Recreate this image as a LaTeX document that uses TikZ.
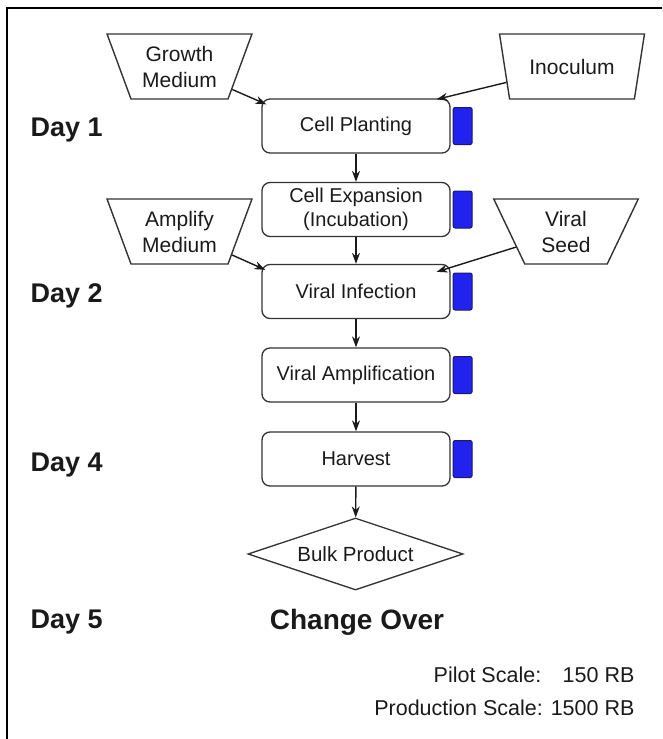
\documentclass[tikz,border=0pt]{standalone}
\usepackage{fontspec}
\setmainfont{Liberation Sans}
\usetikzlibrary{shapes.geometric,arrows.meta,calc}
\definecolor{ink}{HTML}{1A1A1A}
\definecolor{edge}{HTML}{333333}
\definecolor{tabblue}{HTML}{2222EE}
\definecolor{tabedge}{HTML}{1A1A66}
\begin{document}
\begin{tikzpicture}[x=1pt,y=-1pt,
  every node/.style={text=ink},
  stepbox/.style={draw=edge,line width=1.3pt,rounded corners=8pt,
    minimum width=188pt,minimum height=54pt,align=center,
    font=\fontsize{20}{24}\selectfont,inner sep=0pt},
  feed/.style={draw=edge,line width=1.4pt,trapezium,shape border rotate=180,
    trapezium stretches=true,trapezium angle=66,
    minimum width=145pt,minimum height=65pt,align=center,
    font=\fontsize{21}{26}\selectfont,inner sep=0pt},
  tab/.style={draw=tabedge,fill=tabblue,line width=1pt,rounded corners=2pt,
    minimum width=19pt,minimum height=37pt,inner sep=0pt,anchor=west},
  daylabel/.style={anchor=west,font=\bfseries\fontsize{27}{32}\selectfont},
  arr/.style={-{Stealth[length=11pt,width=8pt]},line width=1.4pt,draw=ink},
]
\useasboundingbox (0,0) rectangle (662,739);
% frame
\draw[line width=2pt,black] (7,739) -- (7,8) -- (662,8);

% inputs
\node[feed] (gm) at (179.5,66.5) {Growth\\Medium};
\node[feed] (ino) at (572,66.5) {Inoculum};
\node[feed] (am) at (179.5,231.5) {Amplify\\Medium};
\node[feed] (vs) at (566,231.5) {Viral\\Seed};

% process steps
\node[stepbox] (cp) at (356,126) {Cell Planting};
\node[stepbox] (ce) at (356,209.5) {Cell Expansion\\(Incubation)};
\node[stepbox] (vi) at (356,291.5) {Viral Infection};
\node[stepbox] (va) at (356,375) {Viral Amplification};
\node[stepbox] (hv) at (356,459) {Harvest};
\node[draw=edge,line width=1.3pt,diamond,aspect=3,minimum width=215pt,
  minimum height=72pt,inner sep=0pt,font=\fontsize{20.5}{24}\selectfont]
  (bp) at (355.5,554) {Bulk Product};

% blue tabs beside each step
\foreach \s in {cp,ce,vi,va,hv}
  \node[tab] (tab-\s) at ([xshift=2pt]\s.east) {};

% flow
\draw[arr] (cp) -- (ce);
\draw[arr] (ce) -- (vi);
\draw[arr] (vi) -- (va);
\draw[arr] (va) -- (hv);
\draw[arr] (hv) -- (bp);
\draw[arr] (gm) -- ($(cp.north west)+(5,6)$);
\draw[arr] (ino) -- ($(cp.north east)+(-14,1)$);
\draw[arr] (am) -- ($(vi.north west)+(4,6)$);
\draw[arr] (vs) -- ($(vi.north east)+(-14,8)$);

% day labels
\node[daylabel] (d1) at (27,130) {Day 1};
\node[daylabel] (d2) at (27,296) {Day 2};
\node[daylabel] (d4) at (27,465) {Day 4};
\node[daylabel] (d5) at (27,622) {Day 5};
\node[font=\bfseries\fontsize{28}{32}\selectfont] (co) at (357,622) {Change Over};

% scale note
\node[anchor=east,align=right,font=\fontsize{21.5}{33}\selectfont] (scale) at (638,691)
  {Pilot Scale:\quad 150 RB\\Production Scale: 1500 RB};
\end{tikzpicture}
\end{document}
